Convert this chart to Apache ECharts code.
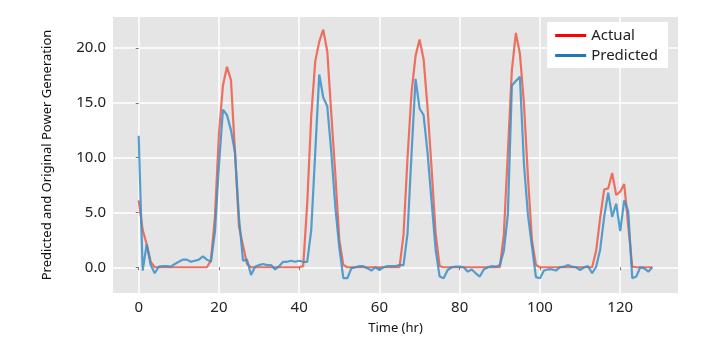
<!DOCTYPE html>
<html>
<head>
<meta charset="utf-8">
<script src="https://cdn.jsdelivr.net/npm/echarts@6/dist/echarts.min.js"></script>
<style>
  html, body { margin: 0; padding: 0; background: #fff; }
  #chart { width: 719px; height: 352px; }
</style>
</head>
<body>
<div id="chart"></div>
<script>
// 时间 (hr) 0..128
const hours = []
for (let i = 0; i <= 128; i++) hours.push(i)

// 刻度
const xTicks = [0, 20, 40, 60, 80, 100, 120]
const yTicks = [0, 5, 10, 15, 20]

// 实际发电量
const actual = [
  6.1, 3.4, 2.1, 0.5, 0, 0, 0, 0, 0, 0,
  0, 0, 0, 0, 0, 0, 0, 0, 0.6, 4.6,
  12.2, 16.6, 18.3, 17.1, 10.5, 3.7, 2.0, 0.3, 0, 0,
  0, 0, 0, 0, 0, 0, 0, 0, 0, 0,
  0, 0.1, 5.8, 13.8, 18.8, 20.6, 21.7, 19.7, 14.0, 8.5,
  2.5, 0.2, 0, 0, 0, 0, 0, 0, 0, 0,
  0, 0, 0, 0, 0, 0, 3.0, 10.0, 16.0, 19.3,
  20.8, 19.0, 14.5, 9.0, 3.1, 0.1, 0, 0, 0, 0,
  0, 0, 0, 0, 0, 0, 0, 0, 0, 0,
  0, 3.0, 10.5, 18.0, 21.4, 19.5, 15.0, 8.3, 2.5, 0.2,
  0, 0, 0, 0, 0, 0, 0, 0, 0, 0,
  0, 0, 0, 0, 1.5, 4.5, 7.1, 7.2, 8.6, 6.6,
  6.9, 7.6, 3.8, 0.05, 0, 0, 0, 0, 0
]

// 预测发电量
const predicted = [
  12.0, -0.3, 2.1, 0.2, -0.55, 0.05, 0.1, 0.1, 0.05, 0.3,
  0.5, 0.7, 0.7, 0.5, 0.6, 0.7, 1.0, 0.7, 0.5, 3.2,
  9.3, 14.4, 13.9, 12.5, 10.5, 4.5, 0.6, 0.7, -0.7, 0.05,
  0.2, 0.3, 0.2, 0.2, -0.2, 0.1, 0.5, 0.5, 0.6, 0.5,
  0.6, 0.5, 0.5, 3.4, 10.5, 17.6, 15.5, 14.7, 10.5, 5.5,
  1.8, -1.0, -1.0, -0.1, 0.0, 0.1, 0.1, -0.1, -0.3, 0.0,
  -0.25, 0.0, 0.1, 0.1, 0.1, 0.2, 0.2, 3.1, 10.4, 17.2,
  14.5, 13.9, 10.4, 6.0, 1.6, -0.85, -1.0, -0.25, 0.0, 0.05,
  0.05, 0.0, -0.4, -0.2, -0.55, -0.85, -0.2, 0.0, 0.1, 0.05,
  0.2, 1.5, 4.8, 16.6, 17.0, 17.4, 9.5, 4.8, 1.9, -0.9,
  -1.0, -0.3, -0.2, -0.2, -0.3, 0.0, 0.05, 0.2, 0.05, 0.0,
  -0.25, 0.0, 0.1, -0.55, 0.05, 1.6, 4.6, 6.8, 4.6, 5.8,
  3.3, 6.1, 5.1, -1.0, -0.85, 0.0, -0.1, -0.4, 0.0
]

const seriesNames = ['Actual', 'Predicted']

const chart = echarts.init(document.getElementById('chart'))

const tickFont = { fontFamily: 'Noto Sans', fontSize: 15, color: '#222' }
const gridLine = { show: true, lineStyle: { color: '#ffffff', width: 1.5 } }

const option = {
  backgroundColor: '#ffffff',
  animation: false,
  grid: {
    left: 113, right: 41, top: 17, bottom: 59,
    show: true,
    backgroundColor: '#E5E5E5',
    borderWidth: 0
  },
  legend: {
    data: [
      { name: seriesNames[0], itemStyle: { color: '#FF0000' } },
      { name: seriesNames[1], itemStyle: { color: '#1F77B4' } }
    ],
    orient: 'vertical',
    right: 51,
    top: 22,
    icon: 'rect',
    itemWidth: 31,
    itemHeight: 3,
    itemGap: 5,
    padding: [6, 10, 5, 8],
    backgroundColor: '#ffffff',
    textStyle: { fontFamily: 'Noto Sans', fontSize: 15, color: '#222' }
  },
  xAxis: {
    type: 'value',
    // matplotlib 默认留 5% 边距
    min: -6.4,
    max: 134.4,
    name: 'Time (hr)',
    nameLocation: 'middle',
    nameGap: 29,
    nameTextStyle: { fontFamily: 'Noto Sans', fontSize: 13, color: '#111' },
    axisLine: { show: false },
    axisTick: { show: true, length: 3, customValues: xTicks, lineStyle: { color: '#777' } },
    axisLabel: Object.assign({ margin: 7, customValues: xTicks }, tickFont),
    splitLine: gridLine
  },
  yAxis: {
    type: 'value',
    min: -2.35,
    max: 22.85,
    name: 'Predicted and Original Power Generation',
    nameLocation: 'middle',
    nameGap: 59,
    nameTextStyle: { fontFamily: 'Noto Sans', fontSize: 13, color: '#111' },
    axisLine: { show: false },
    axisTick: { show: true, length: 3, customValues: yTicks, lineStyle: { color: '#777' } },
    axisLabel: Object.assign({
      margin: 7, customValues: yTicks,
      formatter: v => v.toFixed(1)
    }, tickFont),
    splitLine: gridLine
  },
  series: [
    {
      name: seriesNames[0],
      type: 'line',
      symbol: 'none',
      data: hours.map((t, i) => [t, actual[i]]),
      itemStyle: { color: '#FF0000' },
      lineStyle: { color: '#EE5A48', width: 2.2, opacity: 0.85 },
      z: 2
    },
    {
      name: seriesNames[1],
      type: 'line',
      symbol: 'none',
      data: hours.map((t, i) => [t, predicted[i]]),
      itemStyle: { color: '#1F77B4' },
      lineStyle: { color: '#3A8FC8', width: 2.2, opacity: 0.85 },
      z: 3
    }
  ]
}

chart.setOption(option)
</script>
</body>
</html>
